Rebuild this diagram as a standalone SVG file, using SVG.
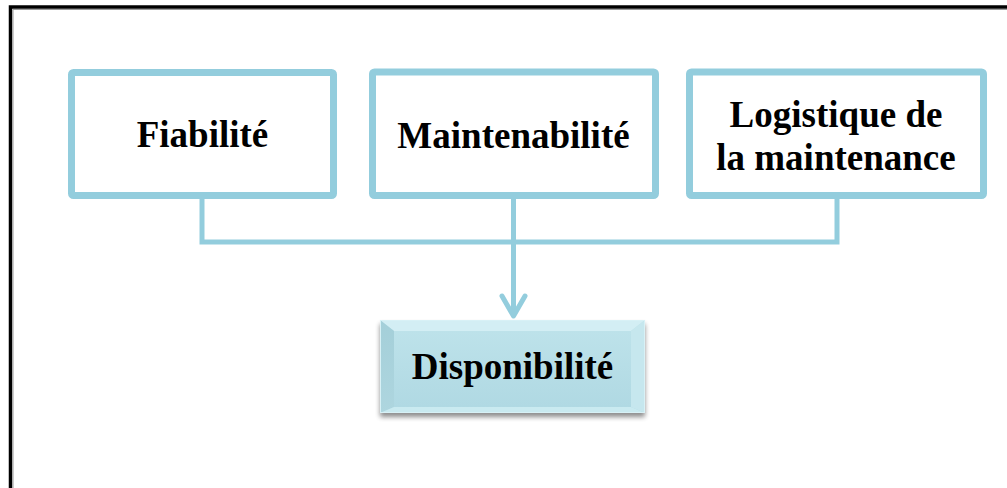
<svg xmlns="http://www.w3.org/2000/svg" width="1007" height="488" viewBox="0 0 1007 488">
  <style>
    .box { fill: #ffffff; stroke: #93cddd; stroke-width: 7; }
    .label { font-family: "Liberation Serif", "Times New Roman", serif; font-weight: bold; font-size: 37px; fill: #000000; text-anchor: middle; }
    .wire { fill: none; stroke: #93cddd; stroke-width: 5; }
  </style>
  <defs>
    <!-- open chevron head, drawn pointing along +x so orient="auto" follows the line -->
    <marker id="chevron" markerUnits="userSpaceOnUse" markerWidth="28" markerHeight="30" refX="23" refY="14" orient="auto" viewBox="0 0 28 28">
      <path d="M3,2.5 L23,14 L3,25.5" fill="none" stroke="#93cddd" stroke-width="5" stroke-linecap="round" stroke-linejoin="round"/>
    </marker>
    <linearGradient id="faceGrad" x1="0" y1="0" x2="0" y2="1">
      <stop offset="0" stop-color="#bde2ea"/>
      <stop offset="1" stop-color="#b0d9e3"/>
    </linearGradient>
    <linearGradient id="leftGrad" x1="0" y1="0" x2="0" y2="1">
      <stop offset="0" stop-color="#a4cfd9"/>
      <stop offset="1" stop-color="#aed6df"/>
    </linearGradient>
    <filter id="dropShadow" x="-10%" y="-10%" width="120%" height="130%">
      <feGaussianBlur in="SourceAlpha" stdDeviation="2.5"/>
      <feOffset dx="0" dy="4" result="blur"/>
      <feComponentTransfer><feFuncA type="linear" slope="0.45"/></feComponentTransfer>
      <feMerge><feMergeNode/><feMergeNode in="SourceGraphic"/></feMerge>
    </filter>
  </defs>

  <rect width="1007" height="488" fill="#ffffff"/>

  <!-- outer frame -->
  <path d="M10.5,492 V7 H1012" fill="none" stroke="#000000" stroke-width="3.5"/>
  <path d="M13,492 V9.5 H1012" fill="none" stroke="#9a9a9a" stroke-width="1"/>

  <!-- connectors -->
  <g id="connectors">
    <path class="wire" d="M202,199 V242 H837 V199"/>
    <path class="wire" d="M513.5,199 V316" marker-end="url(#chevron)"/>
  </g>

  <g id="node-fiabilite">
    <rect class="box" x="71.5" y="72.5" width="262" height="123" rx="2"/>
    <text class="label" x="202.5" y="147">Fiabilité</text>
  </g>

  <g id="node-maintenabilite">
    <rect class="box" x="372.5" y="72" width="283" height="123.5" rx="2"/>
    <text class="label" x="513.5" y="148">Maintenabilité</text>
  </g>

  <g id="node-logistique">
    <rect class="box" x="689.5" y="72" width="294" height="123.5" rx="2"/>
    <text class="label" x="836" y="127">Logistique de</text>
    <text class="label" x="836" y="170">la maintenance</text>
  </g>

  <g id="node-disponibilite">
    <g filter="url(#dropShadow)">
      <rect x="380" y="320" width="265" height="93" fill="url(#faceGrad)"/>
    </g>
    <!-- bevel facets -->
    <polygon points="380,320 645,320 631,331 394,331" fill="#d3eef4"/>
    <polygon points="380,320 394,331 394,407 380,413" fill="url(#leftGrad)"/>
    <polygon points="645,320 631,331 631,407 645,413" fill="#c6e7ee"/>
    <polygon points="380,413 394,407 631,407 645,413" fill="#c9eaf0"/>
    <rect x="394" y="331" width="237" height="76" fill="url(#faceGrad)"/>
    <rect x="380.5" y="320.5" width="264" height="92" fill="none" stroke="#d8f1f6" stroke-width="1"/>
    <text class="label" x="512.5" y="379">Disponibilité</text>
  </g>
</svg>
